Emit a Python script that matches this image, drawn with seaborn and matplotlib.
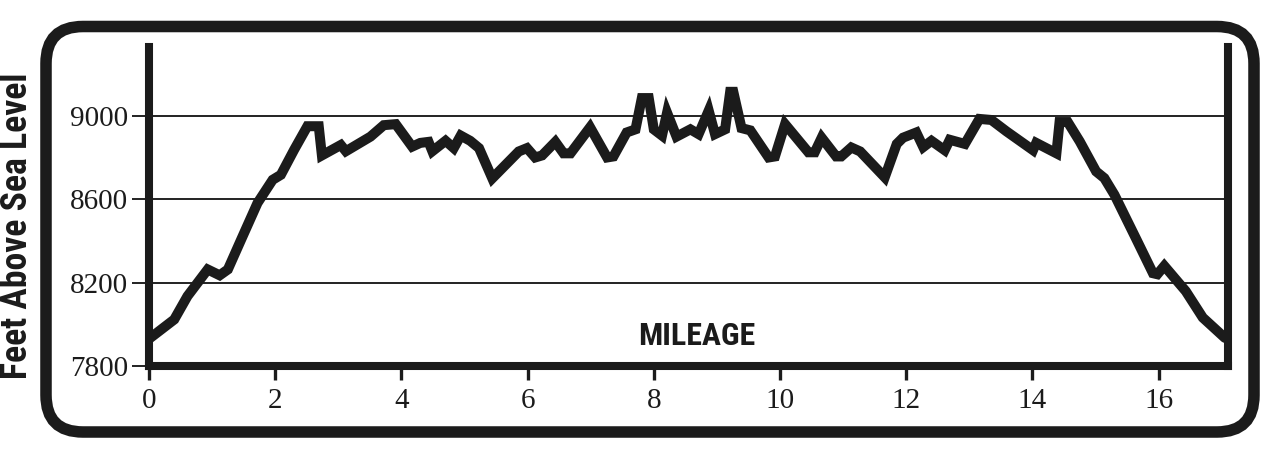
import matplotlib
matplotlib.use('Agg')
import matplotlib.pyplot as plt
import seaborn as sns
from matplotlib.patches import FancyBboxPatch

# elevation profile (miles, feet)
mileage = [0.00, 0.40, 0.61, 0.93, 1.12, 1.25, 1.46, 1.72, 1.96, 2.09,
           2.30, 2.51, 2.69, 2.74, 3.04, 3.12, 3.51, 3.72, 3.91, 4.17,
           4.30, 4.43, 4.49, 4.70, 4.83, 4.94, 5.09, 5.23, 5.44, 5.86,
           5.99, 6.12, 6.23, 6.44, 6.57, 6.68, 6.99, 7.26, 7.36, 7.57,
           7.71, 7.81, 7.92, 8.00, 8.13, 8.21, 8.36, 8.58, 8.71, 8.87,
           8.97, 9.13, 9.21, 9.26, 9.39, 9.53, 9.82, 9.92, 10.08, 10.45,
           10.55, 10.66, 10.89, 10.97, 11.13, 11.27, 11.66, 11.85, 11.95, 12.16,
           12.27, 12.40, 12.61, 12.69, 12.93, 13.16, 13.35, 13.59, 14.01, 14.06,
           14.38, 14.43, 14.56, 14.75, 15.01, 15.14, 15.30, 15.65, 15.91, 15.98,
           16.09, 16.43, 16.70, 17.05]
elevation = [7930, 8023, 8135, 8263, 8235, 8263, 8406, 8582, 8693, 8717,
             8837, 8950, 8950, 8810, 8860, 8830, 8900, 8955, 8960, 8852,
             8870, 8875, 8830, 8880, 8845, 8905, 8880, 8845, 8700, 8829,
             8845, 8800, 8810, 8875, 8820, 8820, 8945, 8800, 8805, 8920,
             8935, 9085, 9085, 8935, 8905, 9015, 8900, 8935, 8912, 9025,
             8912, 8935, 9115, 9115, 8941, 8930, 8800, 8805, 8960, 8825,
             8825, 8895, 8805, 8805, 8848, 8829, 8705, 8865, 8895, 8920,
             8850, 8880, 8835, 8885, 8865, 8985, 8980, 8925, 8835, 8870,
             8820, 8970, 8970, 8877, 8733, 8701, 8621, 8406, 8245, 8240,
             8280, 8159, 8032, 7935]

x_ticks = [0, 2, 4, 6, 8, 10, 12, 14, 16]
y_ticks = [7800, 8200, 8600, 9000]

ink = '#1b1b1b'

sns.set_style("white")
plt.rcParams['font.family'] = ['Liberation Serif', 'DejaVu Serif']

# heavy condensed look for the headings, whichever face is there
head_family = ['Liberation Sans Narrow', 'Roboto Condensed', 'Open Sans Condensed',
               'DejaVu Sans', 'Liberation Sans']

fig = plt.figure(figsize=(12.8, 4.58), dpi=100)
ax = fig.add_axes([0.1164, 0.2009, 0.843, 0.6965])

sns.lineplot(x=mileage, y=elevation, ax=ax, color=ink, linewidth=7.2,
             sort=False, estimator=None, solid_joinstyle='miter', zorder=3)

ax.set_xlim(0, 17.1)
ax.set_ylim(7800, 9330)
ax.set_xticks(x_ticks)
ax.set_yticks(y_ticks)
ax.set_xticklabels([str(t) for t in x_ticks])
ax.set_yticklabels([str(t) for t in y_ticks])

ax.yaxis.grid(True, color='#222222', linewidth=1.4)
ax.xaxis.grid(False)
ax.set_axisbelow(True)

ax.spines['top'].set_visible(False)
for side in ['left', 'right', 'bottom']:
    ax.spines[side].set_linewidth(5.8)
    ax.spines[side].set_color(ink)
    ax.spines[side].set_zorder(4)

ax.tick_params(axis='y', length=12, width=1.4, pad=3, labelsize=21,
               color='#222222', labelcolor=ink, left=True)
ax.tick_params(axis='x', length=10, width=2.4, pad=6, labelsize=21,
               color=ink, labelcolor=ink, bottom=True)

ax.set_xlabel('')
ax.set_ylabel('')

mil = ax.text(0.508, 0.095, 'MILEAGE', transform=ax.transAxes, ha='center', va='center',
              fontsize=20, fontweight='heavy', fontstretch='condensed', color=ink,
              family=head_family)

ylab = fig.text(17 / 1280, 1 - 226 / 458, 'Feet Above Sea Level', rotation=90,
                ha='center', va='center', fontsize=20, fontweight='heavy',
                fontstretch='condensed', color=ink, family=head_family)

# fit the headings to the lengths seen in the picture
renderer = fig.canvas.get_renderer()
w = mil.get_window_extent(renderer).width
mil.set_fontsize(20 * 117 / w)
h = ylab.get_window_extent(renderer).height
ylab.set_fontsize(20 * 306 / h)

# rounded frame around the plot
frame = FancyBboxPatch((0.46, 0.26), 12.08, 4.055,
                       boxstyle='round,pad=0,rounding_size=0.37',
                       transform=fig.dpi_scale_trans, fill=False,
                       edgecolor=ink, linewidth=8.3)
fig.add_artist(frame)

fig.savefig('out.png', dpi=100)
